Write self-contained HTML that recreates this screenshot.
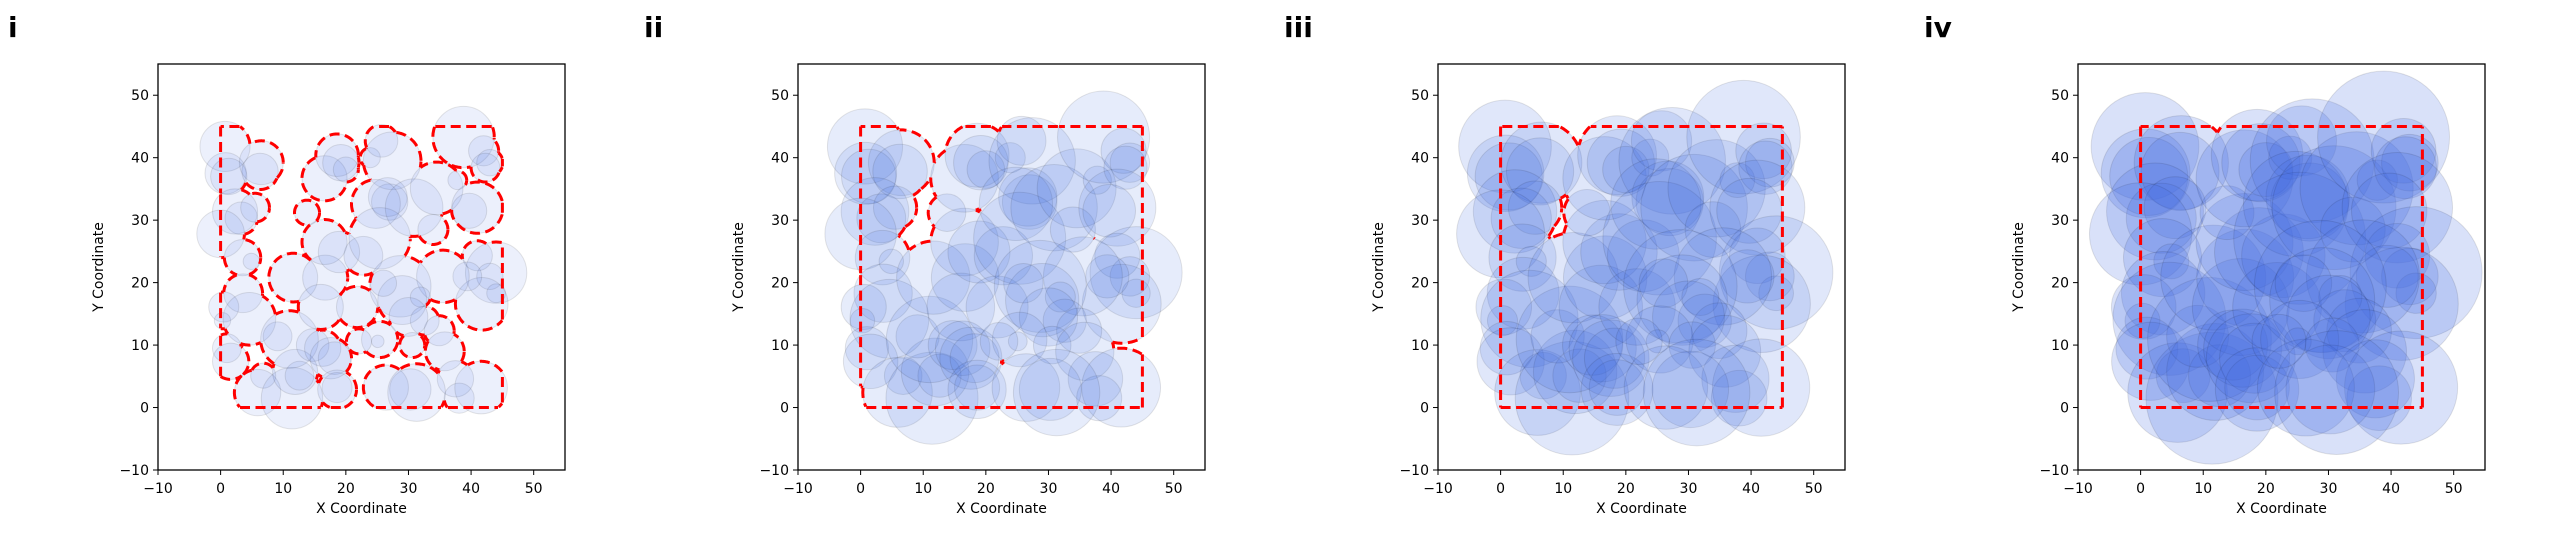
<!DOCTYPE html>
<html><head><meta charset="utf-8"><style>
html,body{margin:0;padding:0;background:#fff;}
svg{display:block;}
text{font-family:"DejaVu Sans","Liberation Sans",sans-serif;fill:#000;}
</style></head><body>
<svg id="fig" width="2560" height="540" viewBox="0 0 2560 540" xmlns="http://www.w3.org/2000/svg"></svg>
<script>
const centerX=[0.7,0.8,1.3,6.5,6.3,2.3,3.3,5.5,0,3.5,4.9,3.6,0.5,0.3,4.6,1,1.6,6.8,5.9,11.4,11.9,12.6,9.1,11,11.6,16.7,16,14.7,16.3,17.6,18.2,18.6,18.6,16.6,18.9,22.8,21.8,13.8,16.6,18.6,19.2,20,23.9,25.7,27.4,27,26.7,24.8,25.4,30.9,34.5,33.9,37.8,38.8,42,43,42.3,41,39.7,41,44,43,44,41.7,39.4,35.5,28.7,29,26,31.9,32.6,34.9,30,25.4,25.1,30.6,35.8,37.5,38.1,41.6,26.4,30.3,31.3,22.1];
const centerY=[41.8,37.5,37,39.2,37.8,31.4,30.3,32,27.8,24,23.4,18.3,16.1,13.9,14.2,9.5,7.4,5.1,2.4,1.5,5.7,5.1,11.4,10.9,20.8,20.8,16.1,10,9.5,7.9,7.9,3.2,2.9,26.5,24.9,24.3,16.1,31.2,36.7,40.4,39.2,38.1,40,42.7,39.5,32.9,33.7,32.6,27.1,32,35.1,28.5,36.4,43.3,41.1,39.2,38.4,32,31.5,24.3,21.6,21,18.3,16.6,21,21,19.4,17.2,19.9,17.7,13.9,12.3,14.5,10.9,10.6,10,9,4.6,1.5,3.2,3.2,2.9,2.4,10.6];
const baseRadius=[4.0,3.3,2.9,3.5,2.9,3.6,2.6,2.3,3.8,2.9,1.3,3.1,2.4,1.3,4.2,2.3,2.9,2.0,3.7,4.9,3.6,2.3,2.3,4.6,3.9,3.6,3.6,2.6,2.9,3.3,2.6,2.4,3.1,3.6,3.3,3.1,3.3,2.0,3.6,3.4,2.9,2.0,1.6,2.6,4.6,2.9,3.1,3.9,4.9,4.6,4.2,2.4,1.5,4.9,2.4,2.1,2.3,4.1,2.8,2.4,4.9,2.1,1.5,4.2,2.3,4.2,4.9,3.9,2.1,1.6,2.3,2.4,3.1,2.9,1.0,2.0,3.1,2.9,2.4,4.2,3.6,3.3,4.6,2.0];
const panelLabels=["i","ii","iii","iv"];
const panelScale=[1.0,1.5,1.85,2.15];
const xTicks=[-10,0,10,20,30,40,50];
const yTicks=[-10,0,10,20,30,40,50];
const regionMin=0, regionMax=45;
const panelFillOpacity=[0.1,0.13,0.16,0.2];

const NS="http://www.w3.org/2000/svg";
const svg=document.getElementById('fig');
function mk(tag,attrs,parent){const e=document.createElementNS(NS,tag);for(const k in attrs)e.setAttribute(k,attrs[k]);(parent||svg).appendChild(e);return e;}
const AX_W=407, AX_H=406, AX_TOP=64, DMIN=-10, DMAX=55;

panelLabels.forEach((lab,p)=>{
  const left=158+640*p;
  const sx=v=>left+(v-DMIN)/(DMAX-DMIN)*AX_W;
  const sy=v=>AX_TOP+AX_H-(v-DMIN)/(DMAX-DMIN)*AX_H;
  const g=mk('g',{});
  
  
  const t=mk('text',{x:[8,644,1284,1924][p],y:37,'font-size':28,'font-weight':'bold'},g);
  t.textContent=lab;
  
  
  const cp=mk('clipPath',{id:'clip'+p},g);
  mk('rect',{x:left,y:AX_TOP,width:AX_W,height:AX_H},cp);
  const cg=mk('g',{'clip-path':'url(#clip'+p+')'},g);
  
  
  const s=panelScale[p];
  const pxPerUnit=AX_W/(DMAX-DMIN);
  for(let i=0;i<centerX.length;i++){
    const c=mk('circle',{cx:sx(centerX[i]),cy:sy(centerY[i]),r:baseRadius[i]*s*pxPerUnit,fill:'#4169E1','fill-opacity':panelFillOpacity[p],stroke:'#000','stroke-opacity':0.1,'stroke-width':1},cg);
    
    
  }
  const R=baseRadius.map(r=>r*s);
  const inside=(x,y,skip)=>{for(let j=0;j<centerX.length;j++){if(j===skip)continue;const dx=x-centerX[j],dy=y-centerY[j];if(dx*dx+dy*dy<R[j]*R[j]-1e-6)return true;}return false;};
  let d='';
  const addRuns=(pts,valid,closed)=>{
    let run=[];const flush=()=>{if(run.length>1)d+='M'+run.map(q=>q[0].toFixed(1)+','+q[1].toFixed(1)).join('L');run=[];};
    for(let k=0;k<pts.length;k++){if(valid[k])run.push(pts[k]);else flush();}
    if(closed&&valid.every(v=>v)){run.push(pts[0]);}
    flush();
  };
  for(let i=0;i<centerX.length;i++){
    const N=240,pts=[],val=[];
    for(let k=0;k<N;k++){const a=2*Math.PI*k/N;const x=centerX[i]+R[i]*Math.cos(a),y=centerY[i]+R[i]*Math.sin(a);
      pts.push([sx(x),sy(y)]);val.push(!inside(x,y,i)&&x>regionMin+0.02&&x<regionMax-0.02&&y>regionMin+0.02&&y<regionMax-0.02);}
    addRuns(pts,val,true);
  }
  const edges=[[0,0,45,0],[45,0,45,45],[45,45,0,45],[0,45,0,0]];
  edges.forEach(e=>{const N=450,pts=[],val=[];for(let k=0;k<=N;k++){const x=e[0]+(e[2]-e[0])*k/N,y=e[1]+(e[3]-e[1])*k/N;pts.push([sx(x),sy(y)]);val.push(inside(x,y,-1));}addRuns(pts,val,false);});
  const bp=mk('path',{d:d,fill:'none',stroke:'#ff0000','stroke-width':3,'stroke-dasharray':'10 5.5','stroke-linejoin':'round'},g);
  
  
  const fr=mk('rect',{x:left,y:AX_TOP,width:AX_W,height:AX_H,fill:'none',stroke:'#000','stroke-width':1.3},g);
  
  
  xTicks.forEach(v=>{
    mk('line',{x1:sx(v),x2:sx(v),y1:AX_TOP+AX_H,y2:AX_TOP+AX_H+5,stroke:'#000','stroke-width':1},g);
    const tt=mk('text',{x:sx(v),y:AX_TOP+AX_H+23,'font-size':14,'text-anchor':'middle'},g);
    tt.textContent=v<0?'\u2212'+(-v):String(v);
    
    
  });
  yTicks.forEach(v=>{
    mk('line',{x1:left-5,x2:left,y1:sy(v),y2:sy(v),stroke:'#000','stroke-width':1},g);
    const tt=mk('text',{x:left-9,y:sy(v)+5,'font-size':14,'text-anchor':'end'},g);
    tt.textContent=v<0?'\u2212'+(-v):String(v);
    
    
  });
  const xl=mk('text',{x:left+AX_W/2,y:513,'font-size':14,'text-anchor':'middle'},g);
  xl.textContent='X Coordinate';
  
  
  const yl=mk('text',{x:0,y:0,'font-size':14,'text-anchor':'middle',transform:'translate('+(left-55)+','+(AX_TOP+AX_H/2)+') rotate(-90)'},g);
  yl.textContent='Y Coordinate';
  
  
});
</script>
</body></html>
